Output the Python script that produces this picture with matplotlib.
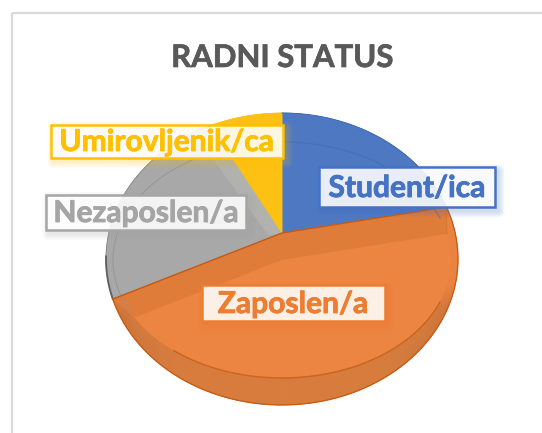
import numpy as np
import matplotlib
matplotlib.use("Agg")
import matplotlib.pyplot as plt
from matplotlib.patches import Polygon, FancyBboxPatch, Rectangle
import matplotlib.patheffects as pe

title = "RADNI STATUS"
categories = ["Student/ica", "Zaposlen/a", "Nezaposlen/a", "Umirovljenik/ca"]
values = [22, 46, 24, 8]
colors = ["#4E79C2", "#DE7B38", "#A8A8A8", "#FDC114"]
edge_colors = ["#4472C4", "#ED7D31", "#A5A5A5", "#FFC000"]
label_centers = [(407, 187), (293, 303), (146, 212), (167, 141)]
label_sizes = [(176, 40), (183, 36), (200, 35), (232, 33)]

W, H = 542, 433
OUTER = (282, 259, 176, 146)   # silhouette ellipse
INNER = (282, 260, 169, 118)   # inner (bevel) ellipse
VX, VY = 282, 233
DROP = 27

plt.rcParams["font.family"] = ["Lato", "DejaVu Sans"]
fig = plt.figure(figsize=(W / 100, H / 100), dpi=100)
ax = fig.add_axes([0, 0, 1, 1])
ax.set_xlim(0, W)
ax.set_ylim(H, 0)
ax.axis("off")

ax.plot([12, 12], [H, 13], color="#D9D9D9", lw=1.6, zorder=1, solid_capstyle="butt")
ax.plot([12, W], [13, 13], color="#D9D9D9", lw=1.6, zorder=1, solid_capstyle="butt")
ax.text(282.5, 58, title, ha="center", va="center", fontsize=22.4, fontweight="bold", color="#595959",
        path_effects=[pe.withStroke(linewidth=0.5, foreground="#595959")])


def rim(theta, ell=OUTER, vx=VX, vy=VY):
    """Point where the ray from the vertex at pie angle theta meets an ellipse."""
    cx, cy, rx, ry = ell
    dx, dy = OUTER[2] * np.sin(theta), -OUTER[3] * np.cos(theta)
    ox, oy = vx - cx, vy - cy
    a = (dx / rx) ** 2 + (dy / ry) ** 2
    b = 2 * (ox * dx / rx ** 2 + oy * dy / ry ** 2)
    c = (ox / rx) ** 2 + (oy / ry) ** 2 - 1
    t = (-b + np.sqrt(b * b - 4 * a * c)) / (2 * a)
    return vx + t * dx, vy + t * dy


def wedge_pts(t1, t2, ell=OUTER, vx=VX, vy=VY):
    return [(vx, vy)] + [rim(t, ell, vx, vy) for t in np.linspace(t1, t2, 160)]


def arc_pts(t1, t2, ell=OUTER, vx=VX, vy=VY):
    return np.array([rim(t, ell, vx, vy) for t in np.linspace(t1, t2, 160)])


edges = np.cumsum([0] + values) / sum(values) * 2 * np.pi

# top faces
for t1, t2, c in zip(edges[:-1], edges[1:], colors):
    ax.add_patch(Polygon(wedge_pts(t1, t2), closed=True, fc=c, ec=c, lw=0.4, zorder=3))

# lighter band on grey next to the yellow slice
q = rim(edges[3])
ax.add_patch(Polygon([(VX, VY), q, (q[0] - 20, q[1] + 3), (VX - 14, VY + 2)], closed=True,
                     fc="#B4B4B0", ec="none", alpha=0.8, zorder=3.02))
ax.add_patch(Polygon(wedge_pts(edges[3], edges[4]), closed=True, fc=colors[3], ec=colors[3], lw=0.4, zorder=3.03))

# orange: shaded ring drawn as an image clipped to the wedge
t1, t2 = edges[1], edges[2]
yy, xx = np.mgrid[0:H, 0:W]
low = np.clip((yy - 300) / 45, 0, 1)[..., None]
side = (np.clip(np.abs(xx - OUTER[0]) / OUTER[2], 0, 1) ** 6 * np.clip((yy - 285) / 30, 0, 1))[..., None]
img = np.array([233, 131, 63]) * (1 - low) + np.array([216, 125, 62]) * low
img = img * (1 - 0.55 * side) + np.array([150, 92, 50]) * 0.55 * side
im = ax.imshow(img.astype(np.uint8), extent=(0, W, H, 0), aspect="auto", zorder=3.1, interpolation="bilinear")
im.set_clip_path(Polygon(wedge_pts(t1, t2), closed=True, transform=ax.transData))
ax.set_xlim(0, W)
ax.set_ylim(H, 0)

# darker band along the top of the orange wedge
r_out = rim(t1), rim(t2)
r_in = rim(t1, INNER, VX, VY + DROP), rim(t2, INNER, VX, VY + DROP)
ax.add_patch(Polygon([r_out[0], (VX, VY), r_out[1], r_in[1], (VX, VY + DROP), r_in[0]], closed=True,
                     fc="#E07C39", ec="none", zorder=3.2))
ax.add_patch(Polygon(wedge_pts(t1, t2, INNER, VX, VY + DROP), closed=True, fc="#EB8541", ec="none", zorder=3.3))

# orange edge lines
arc = arc_pts(t1, t2)
ax.plot(arc[:, 0], arc[:, 1], color="#C55A11", lw=0.9, zorder=3.5)
ax.plot([r_out[0][0], VX, r_out[1][0]], [r_out[0][1], VY, r_out[1][1]], color="#C55A11", lw=1.0, zorder=3.5)
arc = arc_pts(t1 + 0.5, t2 - 0.35, INNER, VX, VY + DROP)
ax.plot(arc[:, 0], arc[:, 1], color="#C9651F", lw=1.0, zorder=3.5)
ax.plot([r_in[0][0], r_out[0][0]], [r_in[0][1], r_out[0][1]], color="#D9762F", lw=0.8, zorder=3.5)

# faint inner arcs on blue and grey
arc = arc_pts(edges[0], edges[1] - 0.12, INNER, VX, VY + DROP)
ax.plot(arc[:, 0], arc[:, 1], color="#3F69B5", lw=0.8, alpha=0.6, zorder=3.4)
arc = arc_pts(edges[2] + 0.05, edges[3] - 0.08, INNER, VX, VY + DROP)
ax.plot(arc[:, 0], arc[:, 1], color="#949494", lw=0.8, alpha=0.8, zorder=3.4)

# rims of grey and blue
ax.plot(*arc_pts(edges[2], edges[3]).T, color="#8C8C8C", lw=0.7, zorder=3.4)
ax.plot(*arc_pts(edges[2], edges[2] + 0.28).T, color="#55555A", lw=1.4, alpha=0.8, zorder=3.45)
ax.plot(*arc_pts(edges[0], edges[1]).T, color="#3F69B5", lw=0.7, zorder=3.4)

# labels with soft shadows
for name, (lx, ly), (w, h), ec in zip(categories, label_centers, label_sizes, edge_colors):
    for k in range(5, 0, -1):
        ax.add_patch(FancyBboxPatch((lx - w / 2 + 3, ly - h / 2 + 4), w, h,
                                    boxstyle=f"round,pad={k * 1.3},rounding_size={k * 1.3}",
                                    fc=ec, ec="none", alpha=0.05, zorder=4))
    ax.add_patch(Rectangle((lx - w / 2, ly - h / 2), w, h, fc="white", alpha=0.88, ec="none", zorder=5))
    ax.add_patch(Rectangle((lx - w / 2, ly - h / 2), w, h, fc="none", ec=ec, lw=1.8, zorder=6))
    ax.text(lx, ly + 1, name, ha="center", va="center", fontsize=21.6, fontweight="bold", color=ec, zorder=7,
            path_effects=[pe.withStroke(linewidth=0.6, foreground=ec)])

fig.savefig("out.png", dpi=100)
